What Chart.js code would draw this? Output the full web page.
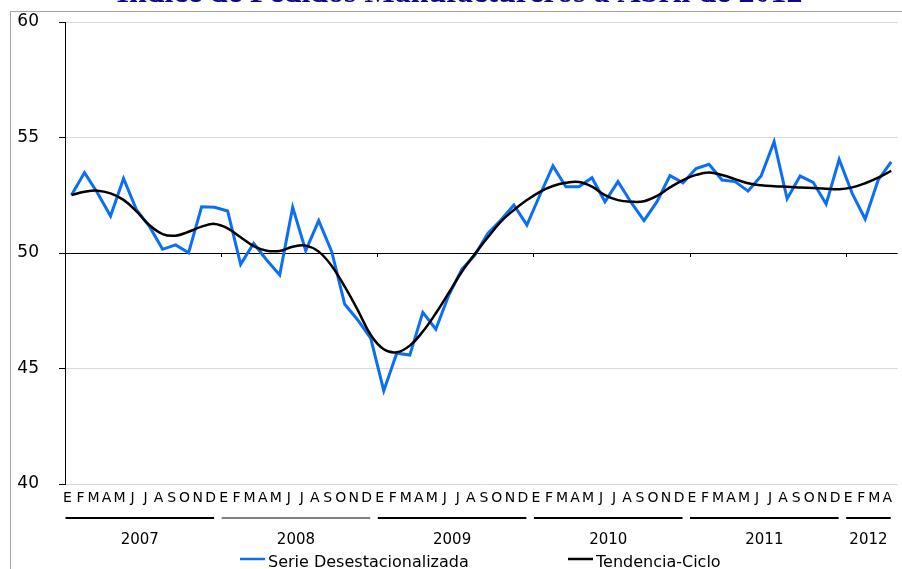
<!DOCTYPE html>
<html lang="es">
<head>
<meta charset="utf-8">
<title>Índice de Pedidos Manufactureros a Abril de 2012</title>
<script src="https://cdn.jsdelivr.net/npm/chart.js@4.4.1/dist/chart.umd.min.js"></script>
<style>
    html, body { margin: 0; padding: 0; background: #fff; }
    #graficoPedidos { display: block; }
</style>
</head>
<body>
<canvas id="graficoPedidos" width="902" height="569"></canvas>
<script>
// datos
const meses = ['E', 'F', 'M', 'A', 'M', 'J', 'J', 'A', 'S', 'O', 'N', 'D'];
const anios = ['2007', '2008', '2009', '2010', '2011', '2012'];
const mesesPorAnio = [12, 12, 12, 12, 12, 4];

const serieDesestacionalizada = [
    52.51, 53.48, 52.60, 51.60, 53.23, 51.86, 51.14, 50.16, 50.35, 50.01, 52.00, 51.98,
    51.82, 49.51, 50.42, 49.70, 49.05, 51.98, 50.10, 51.40, 50.06, 47.78, 47.10, 46.30,
    44.04, 45.66, 45.58, 47.43, 46.70, 48.18, 49.29, 49.91, 50.85, 51.43, 52.08, 51.21,
    52.51, 53.77, 52.87, 52.87, 53.26, 52.22, 53.09, 52.20, 51.40, 52.22, 53.35, 53.04,
    53.66, 53.84, 53.16, 53.09, 52.68, 53.33, 54.82, 52.35, 53.33, 53.06, 52.12, 54.05,
    52.58, 51.47, 53.16, 53.95
];

const tendenciaCiclo = [
    52.51, 52.65, 52.70, 52.58, 52.30, 51.80, 51.20, 50.82, 50.75, 50.92, 51.14, 51.26,
    51.07, 50.68, 50.30, 50.10, 50.09, 50.27, 50.32, 50.06, 49.44, 48.54, 47.53, 46.45,
    45.83, 45.70, 45.99, 46.60, 47.39, 48.28, 49.19, 49.96, 50.68, 51.36, 51.86, 52.29,
    52.65, 52.90, 53.04, 53.07, 52.87, 52.51, 52.29, 52.22, 52.24, 52.47, 52.84, 53.16,
    53.38, 53.48, 53.38, 53.20, 53.02, 52.93, 52.89, 52.87, 52.84, 52.81, 52.78, 52.76,
    52.84, 53.02, 53.26, 53.56
];

const ejeYMin = 40;
const ejeYMax = 60;
const ejeYPaso = 5;
const lineaCruce = 50;

const tituloGrafico = 'Índice de Pedidos Manufactureros a Abril de 2012';

window.onload = function () {

    Chart.defaults.font.family = "'DejaVu Sans', sans-serif";
    Chart.defaults.color = '#000';

    let etiquetas = [];
    mesesPorAnio.forEach((n) => {
        etiquetas = etiquetas.concat(meses.slice(0, n));
    });

    // marcas de año, barras bajo los meses y leyenda
    const pluginDecoracion = {
        id: 'decoracion',
        beforeDraw(chart) {
            const ctx = chart.ctx;
            ctx.save();
            ctx.strokeStyle = '#a6a6a6';
            ctx.lineWidth = 1;
            ctx.strokeRect(10.5, 11.5, chart.width, chart.height);
            ctx.restore();
        },
        afterDraw(chart) {
            const ctx = chart.ctx;
            const ejeX = chart.scales.x;
            const ejeY = chart.scales.y;
            const yCruce = ejeY.getPixelForValue(lineaCruce);
            const medio = (ejeX.getPixelForValue(1) - ejeX.getPixelForValue(0)) / 2;
            const coloresBarra = ['#000', '#808080', '#000', '#000', '#000', '#000'];

            ctx.save();
            let inicio = 0;
            mesesPorAnio.forEach((n, k) => {
                const izq = ejeX.getPixelForValue(inicio) - medio;
                const der = ejeX.getPixelForValue(inicio + n - 1) + medio;

                if (k < mesesPorAnio.length - 1) {
                    ctx.strokeStyle = '#000';
                    ctx.lineWidth = 1;
                    ctx.beginPath();
                    ctx.moveTo(Math.round(der) + 0.5, yCruce);
                    ctx.lineTo(Math.round(der) + 0.5, yCruce + 4);
                    ctx.stroke();
                }

                const x1 = izq + 0.5;
                const x2 = der - 7;
                ctx.strokeStyle = coloresBarra[k];
                ctx.lineWidth = 2;
                ctx.beginPath();
                ctx.moveTo(x1, 518);
                ctx.lineTo(x2, 518);
                ctx.stroke();

                ctx.fillStyle = '#000';
                ctx.font = "15px 'DejaVu Sans'";
                ctx.textAlign = 'center';
                ctx.textBaseline = 'alphabetic';
                ctx.fillText(anios[k], (x1 + x2) / 2, 544);

                inicio += n;
            });

            // leyenda
            const posicionesLeyenda = [240, 568];
            ctx.font = "16px 'DejaVu Sans'";
            ctx.textAlign = 'left';
            chart.data.datasets.forEach((ds, i) => {
                const x0 = posicionesLeyenda[i];
                ctx.strokeStyle = ds.borderColor;
                ctx.lineWidth = 2.5;
                ctx.beginPath();
                ctx.moveTo(x0, 559);
                ctx.lineTo(x0 + 25, 559);
                ctx.stroke();
                ctx.fillStyle = '#000';
                ctx.fillText(ds.label, x0 + 28, 567);
            });
            ctx.restore();
        }
    };

    const graficoPedidos = document.getElementById('graficoPedidos');

    new Chart(graficoPedidos, {
        type: 'line',
        data: {
            labels: etiquetas,
            datasets: [
                {
                    label: 'Serie Desestacionalizada',
                    data: serieDesestacionalizada,
                    borderColor: '#0a6ff5',
                    backgroundColor: '#0a6ff5',
                    borderWidth: 3,
                    pointRadius: 0,
                    tension: 0,
                    order: 2
                },
                {
                    label: 'Tendencia-Ciclo',
                    data: tendenciaCiclo,
                    borderColor: '#000',
                    backgroundColor: '#000',
                    borderWidth: 2.5,
                    pointRadius: 0,
                    tension: 0.4,
                    order: 1
                }
            ]
        },
        options: {
            responsive: false,
            animation: false,
            layout: {
                padding: { left: 17, right: 0, top: 0, bottom: 0 }
            },
            scales: {
                x: {
                    offset: true,
                    grid: { display: false, drawTicks: false },
                    border: { display: false },
                    ticks: {
                        autoSkip: false,
                        maxRotation: 0,
                        minRotation: 0,
                        padding: 6,
                        labelOffset: -4,
                        font: { size: 14 }
                    },
                    afterFit(eje) {
                        eje.height = 85;
                    }
                },
                y: {
                    min: ejeYMin,
                    max: ejeYMax,
                    border: { color: '#000', width: 1 },
                    grid: {
                        color: (c) => (c.tick && c.tick.value === lineaCruce) ? '#000' : '#d9d9d9',
                        tickColor: '#000',
                        tickLength: 6
                    },
                    ticks: {
                        stepSize: ejeYPaso,
                        padding: 20,
                        font: { size: 17 }
                    },
                    afterFit(eje) {
                        eje.width = 48;
                        eje.paddingTop = 0;
                        eje.paddingBottom = 0;
                    }
                }
            },
            plugins: {
                legend: { display: false },
                tooltip: { enabled: false },
                title: {
                    display: true,
                    text: tituloGrafico,
                    color: '#0b0b85',
                    font: { family: "'Liberation Serif', serif", size: 32, weight: 'bold' },
                    padding: { top: -25, bottom: 8.6 }
                }
            }
        },
        plugins: [pluginDecoracion]
    });
}
</script>
</body>
</html>
